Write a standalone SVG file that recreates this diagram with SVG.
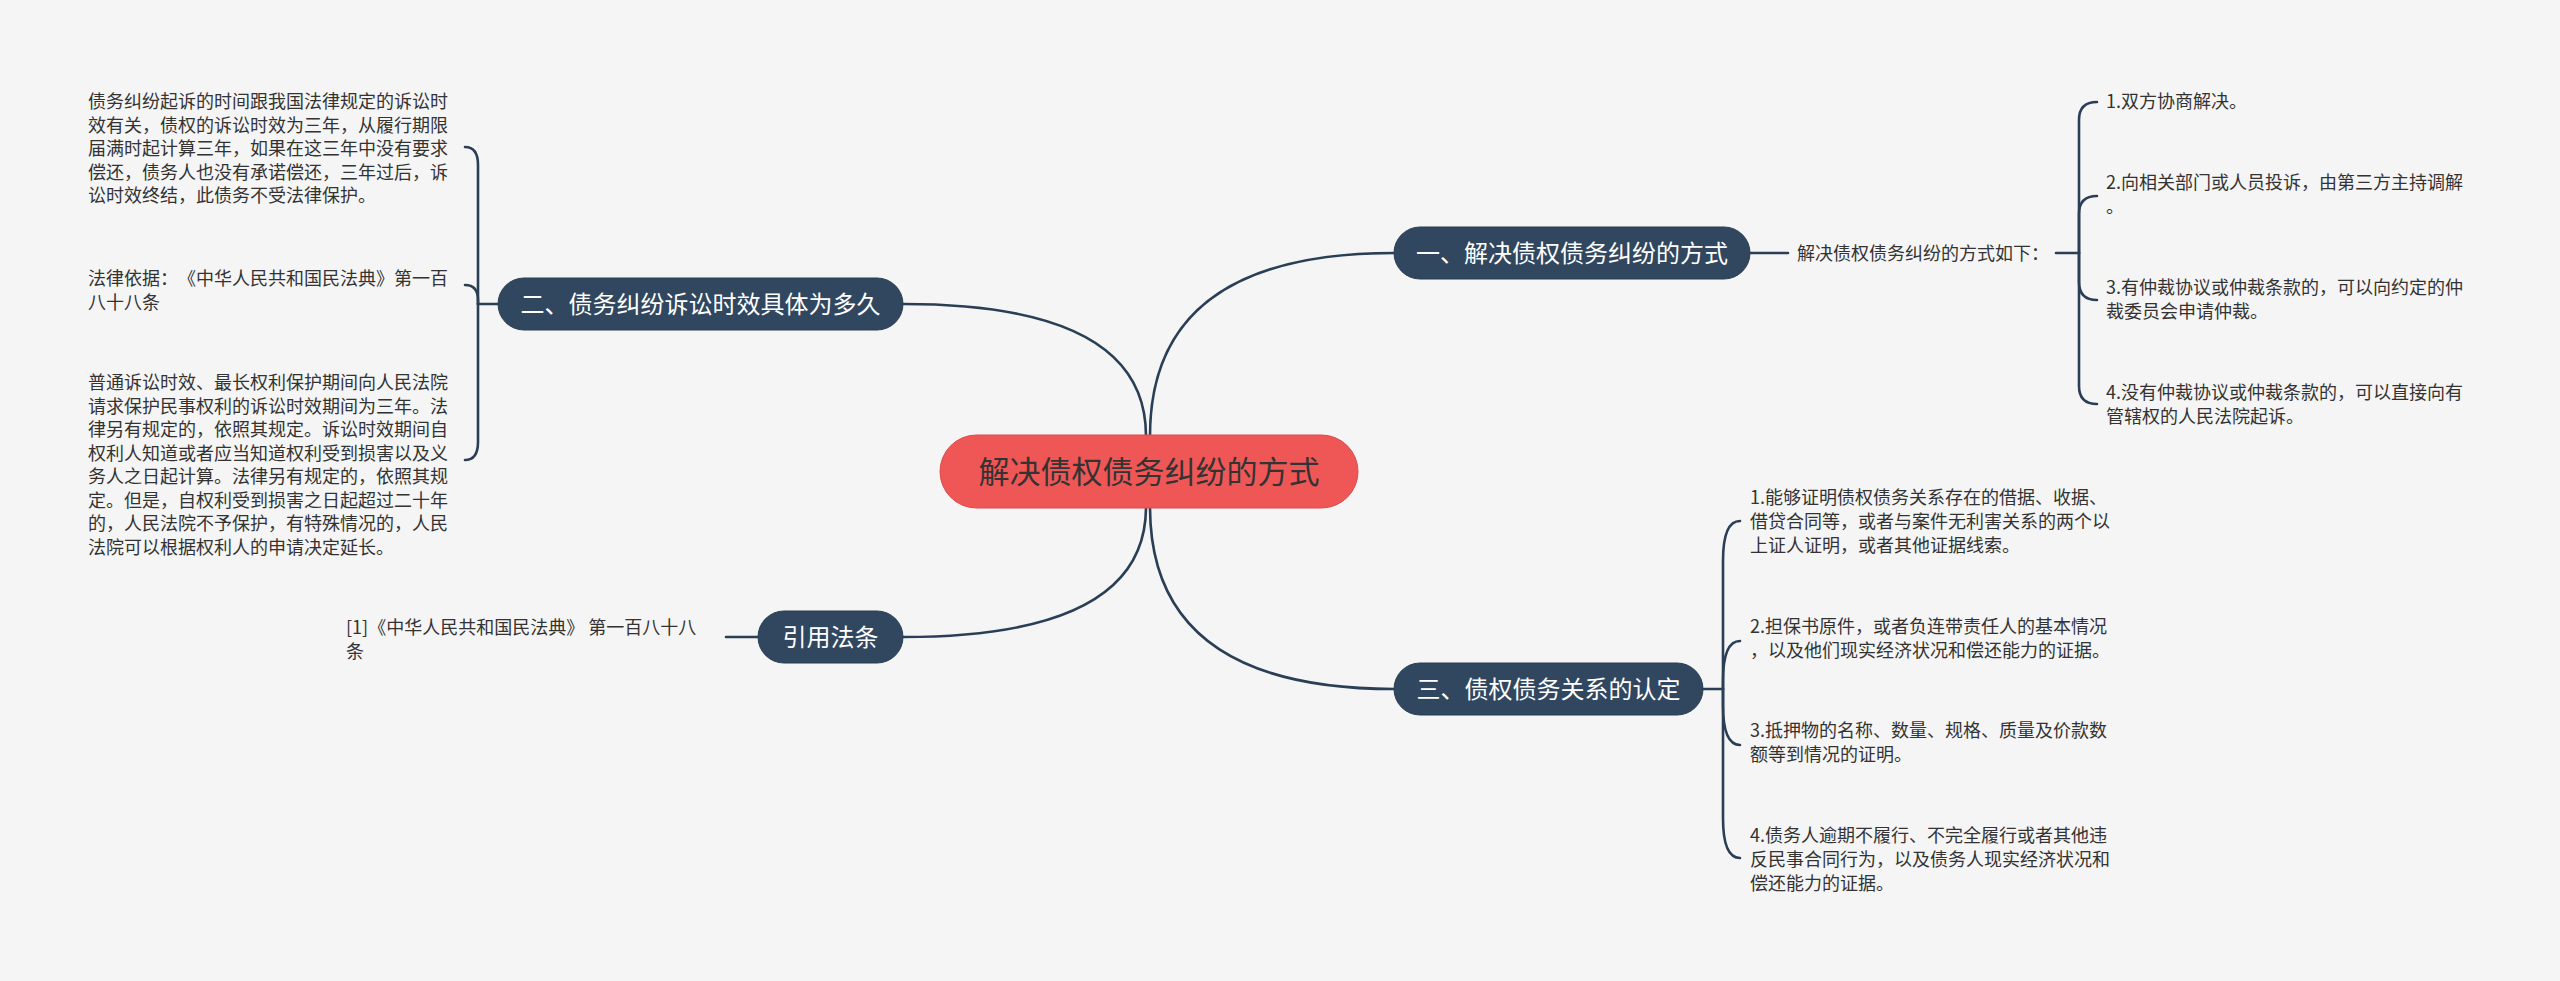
<svg xmlns="http://www.w3.org/2000/svg" width="2560" height="981" viewBox="0 0 2560 981">
<style>
.bg{fill:#f5f5f5}
.ln{fill:none;stroke:#2a3f55;stroke-width:2.6;stroke-linecap:round}
.pill{fill:#30475f;stroke:#2a3f55;stroke-width:1}
.root{fill:#ef5656;stroke:#dd4a4a;stroke-width:1}
.nt{font-family:"Noto Sans CJK SC","Noto Sans",sans-serif;font-size:24px;fill:#ffffff;text-anchor:middle}
.rt{font-family:"Noto Sans CJK SC","Noto Sans",sans-serif;font-size:31px;fill:#333333;text-anchor:middle}
.lf{font-family:"Noto Sans CJK SC","Noto Sans",sans-serif;font-size:18px;fill:#333333;text-spacing-trim:space-all}
</style>
<rect class="bg" x="0" y="0" width="2560" height="981"/>
<g id="connectors">
<path class="ln" d="M1150,436 Q1150,253 1394,253"/>
<path class="ln" d="M1146,436 Q1146,304 903,304"/>
<path class="ln" d="M1146,507 Q1146,637 903,637"/>
<path class="ln" d="M1150,507 Q1150,689 1394,689"/>
<path class="ln" d="M1750,253 L1788,253"/>
<path class="ln" d="M2056,253 L2079,253"/>
<path class="ln" d="M2079,253 L2079,120 Q2079,102 2097,102"/>
<path class="ln" d="M2079,253 L2079,214 Q2079,196 2097,196"/>
<path class="ln" d="M2079,253 L2079,282 Q2079,300 2097,300"/>
<path class="ln" d="M2079,253 L2079,386 Q2079,404 2097,404"/>
<path class="ln" d="M498,304 L478,304"/>
<path class="ln" d="M478,304 L478,165 Q478,147 465,147"/>
<path class="ln" d="M478,304 L478,300 Q478,285 465,285"/>
<path class="ln" d="M478,304 L478,442 Q478,460 465,460"/>
<path class="ln" d="M758,637 L726,637"/>
<path class="ln" d="M1703,689 L1723,689"/>
<path class="ln" d="M1723,689 L1723,561 Q1723,521 1740,521"/>
<path class="ln" d="M1723,689 L1723,681 Q1723,641 1740,641"/>
<path class="ln" d="M1723,689 L1723,705 Q1723,745 1740,745"/>
<path class="ln" d="M1723,689 L1723,818 Q1723,858 1740,858"/>
</g>
<g id="root">
<rect class="root" x="940" y="435" width="418" height="73" rx="36.5"/>
<text class="rt" x="1149" y="483">解决债权债务纠纷的方式</text>
</g>
<g id="n1">
<rect class="pill" x="1394" y="227" width="356" height="52" rx="26"/>
<text class="nt" x="1572" y="262">一、解决债权债务纠纷的方式</text>
</g>
<g id="n1-label">
<text class="lf" x="1797" y="260">解决债权债务纠纷的方式如下：</text>
</g>
<g id="n1-1"><text class="lf" x="2106" y="108">1.双方协商解决。</text></g>
<g id="n1-2"><text class="lf" x="2106" y="189">2.向相关部门或人员投诉，由第三方主持调解</text><text class="lf" x="2106" y="213">。</text></g>
<g id="n1-3"><text class="lf" x="2106" y="294">3.有仲裁协议或仲裁条款的，可以向约定的仲</text><text class="lf" x="2106" y="318">裁委员会申请仲裁。</text></g>
<g id="n1-4"><text class="lf" x="2106" y="399">4.没有仲裁协议或仲裁条款的，可以直接向有</text><text class="lf" x="2106" y="423">管辖权的人民法院起诉。</text></g>
<g id="n2">
<rect class="pill" x="498" y="278" width="405" height="52" rx="26"/>
<text class="nt" x="700.5" y="313">二、债务纠纷诉讼时效具体为多久</text>
</g>
<g id="n2-1">
<text class="lf" x="88" y="108">债务纠纷起诉的时间跟我国法律规定的诉讼时</text>
<text class="lf" x="88" y="131.5">效有关，债权的诉讼时效为三年，从履行期限</text>
<text class="lf" x="88" y="155">届满时起计算三年，如果在这三年中没有要求</text>
<text class="lf" x="88" y="178.5">偿还，债务人也没有承诺偿还，三年过后，诉</text>
<text class="lf" x="88" y="202">讼时效终结，此债务不受法律保护。</text>
</g>
<g id="n2-2">
<text class="lf" x="88" y="285">法律依据：《中华人民共和国民法典》第一百</text>
<text class="lf" x="88" y="308.5">八十八条</text>
</g>
<g id="n2-3">
<text class="lf" x="88" y="389">普通诉讼时效、最长权利保护期间向人民法院</text>
<text class="lf" x="88" y="412.5">请求保护民事权利的诉讼时效期间为三年。法</text>
<text class="lf" x="88" y="436">律另有规定的，依照其规定。诉讼时效期间自</text>
<text class="lf" x="88" y="459.5">权利人知道或者应当知道权利受到损害以及义</text>
<text class="lf" x="88" y="483">务人之日起计算。法律另有规定的，依照其规</text>
<text class="lf" x="88" y="506.5">定。但是，自权利受到损害之日起超过二十年</text>
<text class="lf" x="88" y="530">的，人民法院不予保护，有特殊情况的，人民</text>
<text class="lf" x="88" y="553.5">法院可以根据权利人的申请决定延长。</text>
</g>
<g id="n3">
<rect class="pill" x="758" y="611" width="145" height="52" rx="26"/>
<text class="nt" x="830.5" y="646">引用法条</text>
</g>
<g id="n3-1">
<text class="lf" x="346" y="634">[1]《中华人民共和国民法典》 第一百八十八</text>
<text class="lf" x="346" y="658">条</text>
</g>
<g id="n4">
<rect class="pill" x="1394" y="663" width="309" height="52" rx="26"/>
<text class="nt" x="1548.5" y="698">三、债权债务关系的认定</text>
</g>
<g id="n4-1">
<text class="lf" x="1750" y="504">1.能够证明债权债务关系存在的借据、收据、</text>
<text class="lf" x="1750" y="528">借贷合同等，或者与案件无利害关系的两个以</text>
<text class="lf" x="1750" y="552">上证人证明，或者其他证据线索。</text>
</g>
<g id="n4-2">
<text class="lf" x="1750" y="633">2.担保书原件，或者负连带责任人的基本情况</text>
<text class="lf" x="1750" y="657">，以及他们现实经济状况和偿还能力的证据。</text>
</g>
<g id="n4-3">
<text class="lf" x="1750" y="737">3.抵押物的名称、数量、规格、质量及价款数</text>
<text class="lf" x="1750" y="761">额等到情况的证明。</text>
</g>
<g id="n4-4">
<text class="lf" x="1750" y="842">4.债务人逾期不履行、不完全履行或者其他违</text>
<text class="lf" x="1750" y="866">反民事合同行为，以及债务人现实经济状况和</text>
<text class="lf" x="1750" y="890">偿还能力的证据。</text>
</g>
</svg>
